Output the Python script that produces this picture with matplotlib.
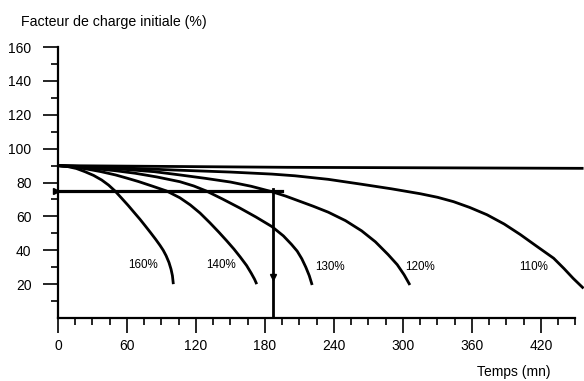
import matplotlib
matplotlib.use("Agg")
import matplotlib.pyplot as plt

plt.rcParams["font.family"] = ["Liberation Sans", "DejaVu Sans"]

# courbes de décharge : temps (mn) et facteur de charge (%)
t_160 = [0, 8, 16, 23.5, 31, 38, 44, 49.6, 55, 61, 66, 71.3, 76, 80.5,
         85, 88.7, 91.5, 94, 96.5, 98.3, 99.5, 100.3]
v_160 = [90, 89.5, 88.3, 86.4, 84.2, 81.5, 78.5, 75, 71, 66.5, 62.5, 58.3,
         54.3, 50.4, 46.4, 42.9, 40, 36.8, 32.8, 28.8, 25, 20]

t_140 = [0, 12, 25, 37, 50, 60, 70, 82, 94.5, 106, 115, 123.5, 132, 140,
         146.7, 153, 158.5, 164, 168, 171, 172.8]
v_140 = [90, 89.3, 88, 86.5, 84.5, 82.6, 80.6, 77.9, 75, 71, 66.8, 62, 56.3,
         50.6, 45.6, 40.7, 36, 31, 26.5, 22.8, 20]

t_130 = [0, 17, 35, 50, 67, 86, 106, 118, 129, 143, 158, 172, 186, 196,
         203, 208, 212, 215.5, 218.5, 221]
v_130 = [90, 89.2, 88, 87, 85.5, 83.3, 80.5, 78, 75, 70.3, 65, 59.7, 54,
         48.5, 43.5, 39.5, 35, 30, 25, 19.5]

t_120 = [0, 25, 50, 84, 106, 128, 150, 168, 186, 198, 210, 222, 235, 250,
         264, 276, 287, 295, 301, 306]
v_120 = [90, 89.3, 88.2, 86.4, 84.5, 82.5, 80.3, 77.8, 74.6, 72, 69, 66, 62.5,
         57.5, 51.5, 45, 37.5, 31.5, 25.5, 19.5]

t_110 = [0, 50, 101, 150, 186, 206, 235, 264, 290, 315, 330, 344, 358, 373,
         388, 402, 416, 431, 440, 448, 457]
v_110 = [90, 88.8, 87.4, 86.2, 85.0, 84.0, 81.9, 79.0, 76.3, 73.4, 71.3, 68.7,
         65.3, 61, 55.5, 49.3, 42.5, 35.3, 29.2, 23.4, 17.5]

t_100 = [0, 200, 457]
v_100 = [90, 89, 88.4]

courbes = [(t_160, v_160), (t_140, v_140), (t_130, v_130),
           (t_120, v_120), (t_110, v_110), (t_100, v_100)]

etiquettes = ["160%", "140%", "130%", "120%", "110%"]
etiq_t = [74, 142, 236.5, 315, 414]
etiq_v = [31.3, 31.3, 30.3, 30.3, 30.3]

# lecture : 75 % de charge -> temps admissible
lecture_v = 75
lecture_t = 187
fin_horiz = 195

fig = plt.figure(figsize=(5.84, 3.81), dpi=100)
ax = fig.add_axes([58 / 584, 63 / 381, 526 / 584, 278 / 381])

for t, v in courbes:
    ax.plot(t, v, color="black", lw=2.0, solid_capstyle="butt",
            solid_joinstyle="round", clip_on=False)

for txt, x, y in zip(etiquettes, etiq_t, etiq_v):
    ax.text(x, y, txt, ha="center", va="center", fontsize=8.4)

ax.plot([0, fin_horiz], [lecture_v, lecture_v], color="black", lw=2.3)
ax.plot([lecture_t, lecture_t], [0, lecture_v + 1], color="black", lw=2)
ax.plot([-1.5], [lecture_v], marker=">", color="black", ms=5, clip_on=False)
ax.plot([lecture_t], [24], marker="v", color="black", ms=5)

ax.set_xlim(0, 457.4)
ax.set_ylim(0, 164.2)

ax.spines["top"].set_visible(False)
ax.spines["right"].set_visible(False)
ax.spines["left"].set_bounds(0, 160)
ax.spines["bottom"].set_bounds(0, 450)
ax.spines["left"].set_linewidth(1.6)
ax.spines["bottom"].set_linewidth(1.6)

ax.set_xticks(range(0, 421, 60))
ax.set_xticks(range(15, 451, 15), minor=True)
ax.set_yticks(range(20, 161, 20))
ax.set_yticks(range(10, 160, 20), minor=True)

ax.tick_params(which="major", length=11, width=1.2, labelsize=10, color="black")
ax.tick_params(which="minor", length=5, width=1.2, color="black")
ax.tick_params(axis="y", which="major", pad=8)
ax.tick_params(axis="x", which="major", pad=4)

fig.text(21 / 584, 1 - 21.7 / 381, "Facteur de charge initiale (%)",
         ha="left", va="center", fontsize=10.2)
fig.text(477 / 584, 1 - 371.7 / 381, "Temps (mn)",
         ha="left", va="center", fontsize=10)

fig.savefig("out.png", dpi=100)
